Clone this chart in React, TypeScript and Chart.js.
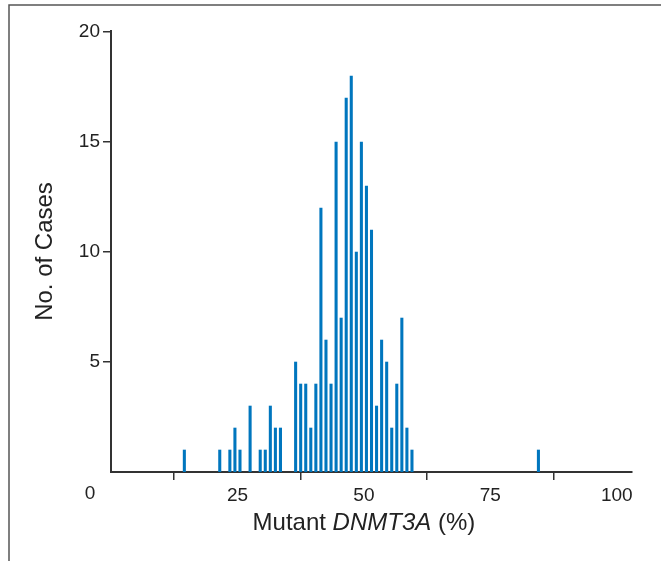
import React, { useEffect, useRef } from 'react';
import { Chart, registerables } from 'chart.js';

Chart.register(...registerables);

const binCenters = [14.5, 21.5, 23.5, 24.5, 25.5, 27.5, 29.5, 30.5, 31.5, 32.5, 33.5, 36.5, 37.5, 38.5, 39.5, 40.5, 41.5, 42.5, 43.5, 44.5, 45.5, 46.5, 47.5, 48.5, 49.5, 50.5, 51.5, 52.5, 53.5, 54.5, 55.5, 56.5, 57.5, 58.5, 59.5, 84.5];
const caseCounts = [1, 1, 1, 2, 1, 3, 1, 1, 3, 2, 2, 5, 4, 4, 2, 4, 12, 6, 4, 15, 7, 17, 18, 10, 15, 13, 11, 3, 6, 5, 2, 4, 7, 2, 1, 1];
const xTickValues = [25, 50, 75, 100];
const yTickValues = [5, 10, 15, 20];
const xZeroLabel = '0';
const yTitle = 'No. of Cases';
const xTitleParts = [
  { text: 'Mutant ', italic: false },
  { text: 'DNMT3A', italic: true },
  { text: ' (%)', italic: false },
];

const FAMILY = "'Liberation Sans Narrow', 'Arial Narrow', 'Liberation Sans', Arial, sans-serif";
const TICK_SIZE = 19;
const TITLE_SIZE = 24;
const TEXT_COLOR = '#222';
const AXIS_COLOR = '#333';

const decorPlugin = {
  id: 'decor',
  beforeDraw(chart: any) {
    const ctx = chart.ctx;
    ctx.save();
    ctx.strokeStyle = '#555';
    ctx.lineWidth = 1.5;
    ctx.beginPath();
    ctx.moveTo(9, chart.height);
    ctx.lineTo(9, 5);
    ctx.lineTo(chart.width, 5);
    ctx.stroke();
    ctx.restore();
  },
  afterDraw(chart: any) {
    const ctx = chart.ctx;
    const xs = chart.scales.x;
    const ys = chart.scales.y;
    ctx.save();
    ctx.fillStyle = TEXT_COLOR;
    ctx.font = `${TICK_SIZE}px ${FAMILY}`;
    ctx.textAlign = 'center';
    ctx.textBaseline = 'top';
    ctx.fillText(xZeroLabel, xs.getPixelForValue(0) - 21, chart.chartArea.bottom + 12);

    const fonts = xTitleParts.map(p => `${p.italic ? 'italic ' : ''}${TITLE_SIZE}px ${FAMILY}`);
    let total = 0;
    const widths = xTitleParts.map((p, i) => {
      ctx.font = fonts[i];
      const w = ctx.measureText(p.text).width;
      total += w;
      return w;
    });
    let x = xs.getPixelForValue(50) - total / 2;
    ctx.textAlign = 'left';
    ctx.textBaseline = 'middle';
    const ty = 523;
    xTitleParts.forEach((p, i) => {
      ctx.font = fonts[i];
      ctx.fillText(p.text, x, ty);
      x += widths[i];
    });

    ctx.font = `${TITLE_SIZE}px ${FAMILY}`;
    ctx.translate(45, (ys.top + ys.bottom) / 2);
    ctx.rotate(-Math.PI / 2);
    ctx.textAlign = 'center';
    ctx.textBaseline = 'middle';
    ctx.fillText(yTitle, 0, 0);
    ctx.restore();
  },
};

export default function App() {
  const ref = useRef<HTMLCanvasElement | null>(null);
  useEffect(() => {
    document.body.style.margin = '0';
    const canvas = ref.current;
    if (!canvas) return;
    const chart = new Chart(canvas, {
      type: 'bar',
      data: {
        datasets: [
          {
            data: binCenters.map((x, i) => ({ x, y: caseCounts[i] })),
            backgroundColor: '#0076be',
            borderWidth: 0,
            barThickness: 2.4,
          } as any,
        ],
      },
      options: {
        animation: false,
        responsive: false,
        maintainAspectRatio: false,
        layout: { padding: { top: 31, right: 29, left: 0, bottom: 0 } },
        plugins: { legend: { display: false }, tooltip: { enabled: false } },
        scales: {
          x: {
            type: 'linear',
            min: 0,
            max: 103,
            offset: false,
            afterBuildTicks: (s: any) => {
              s.ticks = xTickValues.map(v => ({ value: v }));
            },
            afterFit: (s: any) => {
              s.height = 89;
            },
            grid: { drawOnChartArea: false, drawTicks: true, tickLength: 8, color: AXIS_COLOR, lineWidth: 1.5 },
            border: { display: true, color: AXIS_COLOR, width: 2 },
            ticks: { font: { family: FAMILY, size: TICK_SIZE }, color: TEXT_COLOR, padding: 4, maxRotation: 0, autoSkip: false },
          },
          y: {
            min: 0,
            max: 20.05,
            afterBuildTicks: (s: any) => {
              s.ticks = yTickValues.map(v => ({ value: v }));
            },
            afterFit: (s: any) => {
              s.width = 111;
            },
            grid: { drawOnChartArea: false, drawTicks: true, tickLength: 8, color: AXIS_COLOR, lineWidth: 1.5 },
            border: { display: true, color: AXIS_COLOR, width: 2 },
            ticks: { font: { family: FAMILY, size: TICK_SIZE }, color: TEXT_COLOR, padding: 3, autoSkip: false },
          },
        },
      } as any,
      plugins: [decorPlugin],
    });
    return () => chart.destroy();
  }, []);
  return (
    <div style={{ position: 'relative', width: 661, height: 561 }}>
      <canvas ref={ref} width={661} height={561} style={{ display: 'block' }} />
    </div>
  );
}
